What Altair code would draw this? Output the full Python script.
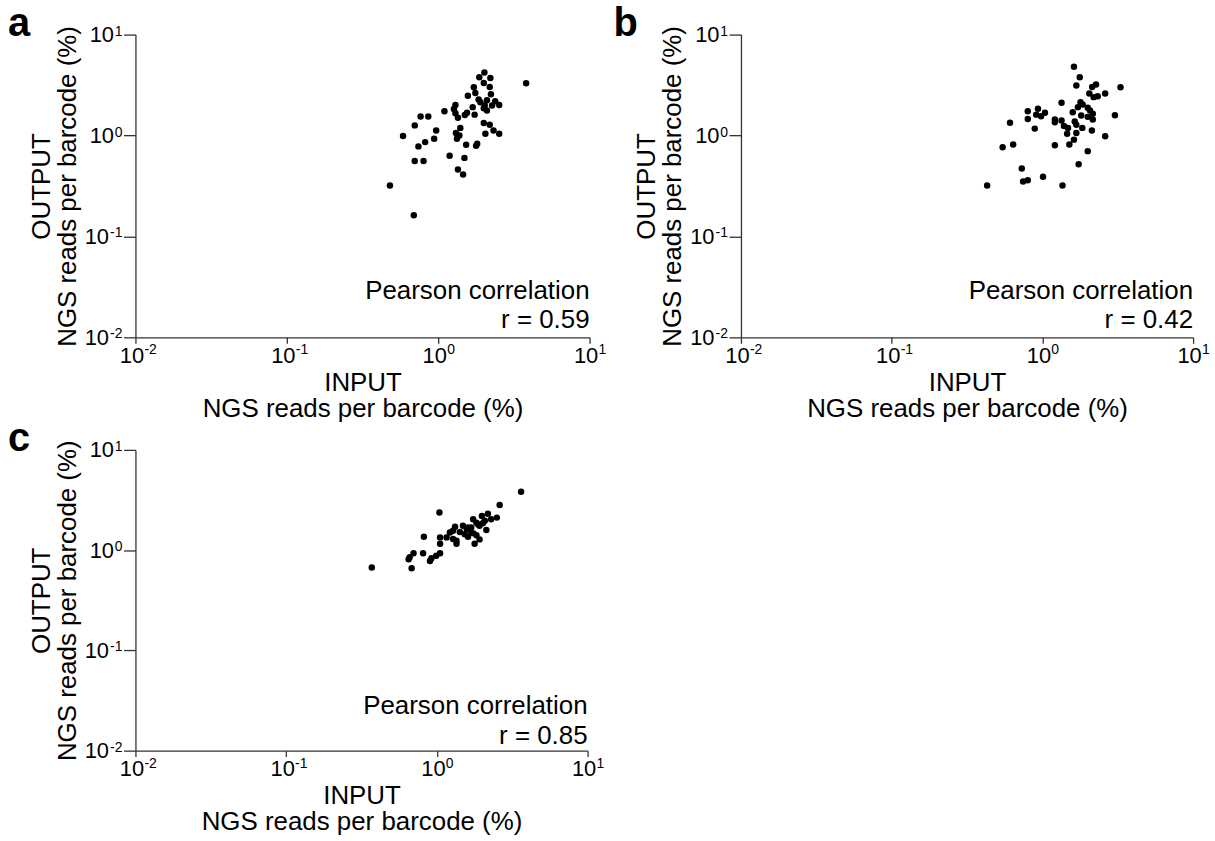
import altair as alt
import pandas as pd

# ---------------- data ----------------
a_input = [2.02, 2.21, 1.87, 2.00, 3.81, 2.19, 1.72, 1.76, 2.23, 1.57, 1.85, 2.10, 2.38, 1.90,
           2.53, 2.27, 2.03, 1.30, 1.69, 2.00, 1.27, 2.10, 1.10, 1.30, 1.55, 1.74, 1.50, 1.35,
           0.765, 0.86, 0.70, 2.00, 2.19, 1.40, 0.97, 2.32, 1.31, 2.05, 2.53, 1.38, 0.586, 0.94,
           1.33, 0.82, 0.74, 1.53, 1.81, 1.78, 1.19, 1.49, 0.70, 0.80, 1.35, 1.46, 0.48, 0.69]
a_output = [4.22, 3.71, 3.77, 3.31, 3.29, 3.03, 3.01, 2.64, 2.56, 2.48, 2.27, 2.24, 2.19, 2.14,
            2.01, 1.98, 1.98, 2.01, 1.91, 1.86, 1.83, 1.77, 1.74, 1.66, 1.68, 1.61, 1.60, 1.50,
            1.54, 1.54, 1.26, 1.33, 1.28, 1.19, 1.12, 1.12, 1.06, 1.04, 1.04, 1.00, 0.99, 0.93,
            0.93, 0.86, 0.78, 0.81, 0.83, 0.79, 0.63, 0.60, 0.56, 0.56, 0.46, 0.41, 0.32, 0.162]

b_input = [1.62, 1.77, 3.30, 1.68, 2.14, 2.27, 2.05, 2.19, 2.33, 2.61, 1.34, 1.79, 1.85, 1.72,
           2.00, 2.07, 2.16, 1.59, 1.81, 2.00, 3.03, 0.80, 0.935, 1.04, 0.98, 0.91, 0.80, 1.21,
           1.21, 1.34, 1.64, 1.68, 2.16, 0.61, 0.89, 1.39, 1.48, 1.84, 1.46, 1.68, 2.13, 2.61,
           1.62, 1.51, 1.21, 0.64, 0.545, 2.00, 1.74, 0.73, 1.01, 0.80, 0.745, 0.43, 1.36]
b_output = [4.79, 3.78, 3.01, 3.13, 3.03, 3.20, 2.61, 2.40, 2.45, 2.61, 2.11, 2.14, 2.03, 1.91,
            1.88, 1.77, 1.64, 1.70, 1.58, 1.53, 1.59, 1.74, 1.84, 1.68, 1.55, 1.61, 1.46, 1.44,
            1.35, 1.41, 1.38, 1.28, 1.44, 1.34, 1.17, 1.24, 1.19, 1.19, 1.04, 1.06, 1.12, 0.985,
            0.91, 0.815, 0.80, 0.815, 0.765, 0.70, 0.52, 0.47, 0.39, 0.36, 0.35, 0.32, 0.32]

c_input = [3.62, 2.61, 1.04, 2.18, 1.99, 2.50, 2.29, 1.74, 1.83, 2.08, 1.92, 1.69, 2.13, 1.49,
           1.32, 1.28, 1.22, 1.42, 1.53, 1.69, 1.83, 1.92, 1.61, 1.16, 1.05, 1.35, 1.28, 1.78,
           1.35, 0.82, 1.05, 1.05, 0.99, 0.92, 0.90, 0.81, 0.70, 0.66, 0.65, 0.37, 0.68, 1.61,
           1.88, 2.02, 1.58, 1.75]
c_output = [3.83, 2.82, 2.37, 2.31, 2.19, 2.11, 2.03, 2.03, 1.88, 1.96, 1.75, 1.68, 1.59, 1.75,
            1.71, 1.56, 1.50, 1.52, 1.44, 1.50, 1.41, 1.28, 1.36, 1.34, 1.34, 1.24, 1.29, 1.16,
            1.16, 1.36, 1.16, 0.93, 0.88, 0.83, 0.78, 0.93, 0.93, 0.85, 0.81, 0.67, 0.66, 1.68,
            1.80, 1.85, 1.62, 1.47]

panel_letters = ["a", "b", "c"]
pearson_r = ["r = 0.59", "r = 0.42", "r = 0.85"]
tick_values = [0.01, 0.1, 1, 10]
tick_base = "10"
tick_exponents = ["-2", "-1", "0", "1"]
x_title = ["INPUT", "NGS reads per barcode (%)"]
y_title = ["OUTPUT", "NGS reads per barcode (%)"]

FONT = "Liberation Sans"

axis_style = dict(grid=False, domainColor="#333333", tickColor="#333333", domainWidth=1.3,
                  tickWidth=1.3, labelFont=FONT, labelFontSize=22, labelColor="black",
                  titleFont=FONT, titleFontSize=26, titleFontWeight="normal",
                  titleColor="black", titleLineHeight=26, ticks=True, labelFlush=False,
                  labelOverlap=False)

tick_df = pd.DataFrame({"value": tick_values, "exp": tick_exponents})


def panel(xs, ys, letter, r_text, w, h):
    df = pd.DataFrame({"input": xs, "output": ys})
    scale = alt.Scale(type="log", domain=[0.01, 10], nice=False, zero=False)
    pts = alt.Chart(df).mark_circle(size=42, color="black", opacity=1).encode(
        x=alt.X("input:Q", scale=scale,
                axis=alt.Axis(values=tick_values, labelExpr=f"'{tick_base}'", title=x_title,
                              tickSize=6, labelPadding=2, titlePadding=3, labelOffset=-4,
                              **axis_style)),
        y=alt.Y("output:Q", scale=scale,
                axis=alt.Axis(values=tick_values, labelExpr=f"'{tick_base}'", title=y_title,
                              tickSize=12, titlePadding=4,
                              labelPadding={"condition": {"test": "datum.value < 0.5", "value": 15},
                                            "value": 10},
                              **axis_style)),
    )
    # superscript exponents of the tick labels
    x_exp = alt.Chart(tick_df).mark_text(align="left", baseline="top", fontSize=14, font=FONT,
                                         color="black", dx=9, dy=6).encode(
        x=alt.X("value:Q", scale=scale), y=alt.value(h), text="exp:N")
    y_exp = alt.Chart(tick_df).mark_text(align="right", baseline="top", fontSize=14, font=FONT,
                                         color="black", dx=-13, dy=-10).encode(
        y=alt.Y("value:Q", scale=scale), x=alt.value(0), text="exp:N")

    ann_df = pd.DataFrame({"line1": ["Pearson correlation"], "line2": [r_text], "letter": [letter]})
    t1 = alt.Chart(ann_df).mark_text(align="right", baseline="alphabetic", fontSize=26,
                                     font=FONT, color="black").encode(
        text="line1:N", x=alt.value(w), y=alt.value(265))
    t2 = alt.Chart(ann_df).mark_text(align="right", baseline="alphabetic", fontSize=26,
                                     font=FONT, color="black").encode(
        text="line2:N", x=alt.value(w), y=alt.value(295))
    t3 = alt.Chart(ann_df).mark_text(align="left", baseline="alphabetic", fontSize=40,
                                     fontWeight="bold", font=FONT, color="black").encode(
        text="letter:N", x=alt.value(-128), y=alt.value(1))
    return alt.layer(pts, x_exp, y_exp, t1, t2, t3).properties(width=w, height=h)


pa = panel(a_input, a_output, panel_letters[0], pearson_r[0], 456, 304)
pb = panel(b_input, b_output, panel_letters[1], pearson_r[1], 454, 304)
pc = panel(c_input, c_output, panel_letters[2], pearson_r[2], 454, 302)

chart = alt.vconcat(
    alt.hconcat(pa, pb, spacing=7),
    pc,
    spacing=-2,
).properties(
    padding={"left": 8, "top": 2, "right": 5, "bottom": 5},
    background="white",
).configure_view(
    stroke=None
)

chart.save("out.html", embed_options={"renderer": "svg", "actions": False})
